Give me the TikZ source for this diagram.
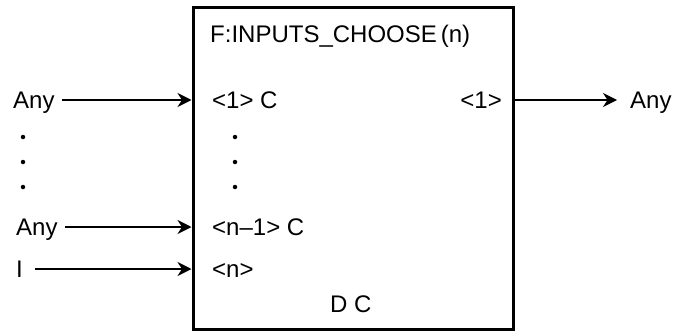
\documentclass[tikz,border=0pt]{standalone}
\usepackage{fontspec}
\setmainfont{Liberation Sans}
\usetikzlibrary{arrows.meta,positioning}

\begin{document}
\begin{tikzpicture}[
  x=1pt,y=-1pt,
  every node/.style={font=\fontsize{24}{28}\selectfont,inner sep=0pt},
  label/.style={anchor=west,text height=17pt,text depth=0pt},
  block/.style={draw,line width=3pt,anchor=north west,
                minimum width=320pt,minimum height=322pt},
  wire/.style={-{Stealth[length=14pt,width=14pt,inset=4.5pt]},line width=1.6pt,
               shorten <=7pt},
  dot/.style={circle,fill,inner sep=0pt,minimum size=4.5pt}
]
\path[use as bounding box] (0,0) rectangle (688,332);
\node[block] (fb) at (191.5,5.5) {};
\node[label] (title) at (210,33.5) {F:INPUTS\_CHOOSE\,(n)};
\node[label] (p1) at (212,100) {\char`\<1\char`\>{} C};
\node[label] (pn1) at (212,227) {\char`\<n--1\char`\>{} C};
\node[label] (pn) at (212,269) {\char`\<n\char`\>};
\node[label] (dc) at (330,303.5) {D C};
\node[label,anchor=east] (q1) at (502,100) {\char`\<1\char`\>};
\node[label] (any1) at (13,100) {Any};
\node[label] (anyn1) at (16,227) {Any};
\node[label] (idx) at (16,269) {I};
\node[label] (out) at (630,100) {Any};
\foreach \y [count=\k] in {137,162,187} {
  \node[dot] (ldot\k) at (23,\y) {};
  \node[dot] (rdot\k) at (235,\y) {};
}
\draw[wire] (any1.east) -- (fb.west |- any1.east);
\draw[wire] (anyn1.east) -- (fb.west |- anyn1.east);
\draw[wire,shorten <=12pt] (idx.east) -- (fb.west |- idx.east);
\draw[wire,shorten <=0pt,shorten >=13pt] (fb.east |- q1.east) -- (out.west);
\end{tikzpicture}
\end{document}
